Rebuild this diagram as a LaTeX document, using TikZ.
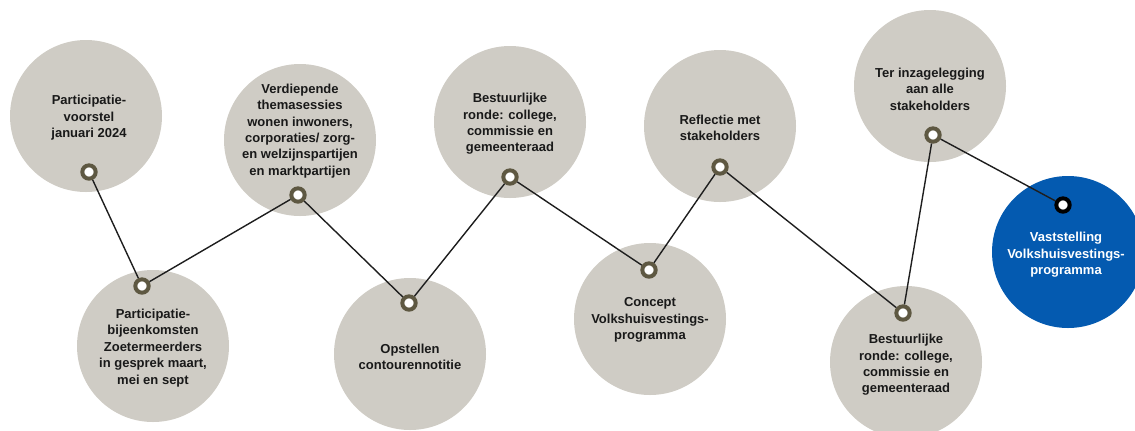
\documentclass[tikz,border=0pt]{standalone}
\usepackage{fontspec}
\setmainfont{Liberation Sans}
\definecolor{disc}{RGB}{207,204,197}
\definecolor{bluedisc}{RGB}{4,90,176}
\definecolor{ringc}{RGB}{94,88,66}
\definecolor{linec}{RGB}{30,30,30}
\begin{document}
\begin{tikzpicture}[x=0.75pt,y=-0.75pt,
  disk/.style={circle,fill=disc,draw=none,minimum size=114pt,inner sep=0pt},
  bdisk/.style={circle,fill=bluedisc,draw=none,minimum size=114pt,inner sep=0pt},
  lbl/.style={align=center,font=\fontsize{9.75}{12.3}\selectfont\bfseries,text=black!90,inner sep=0pt},
  wlbl/.style={lbl,text=white},
  ring/.style={circle,fill=white,draw=ringc,line width=3pt,minimum size=10pt,inner sep=0pt},
  bring/.style={ring,draw=black},
  conn/.style={draw=linec,line width=1.05pt}]
\useasboundingbox (0,0) rectangle (1135,430);
% discs
\node[disk] (c1) at (86,116) {};
\node[disk] (c2) at (300,140) {};
\node[disk] (c3) at (153,346) {};
\node[disk] (c4) at (410,354) {};
\node[disk] (c5) at (510,122) {};
\node[disk] (c6) at (720,126) {};
\node[disk] (c7) at (650,319) {};
\node[disk] (c8) at (930,86) {};
\node[disk] (c9) at (906,362) {};
\node[bdisk] (c10) at (1068,252) {};
% labels
\node[lbl] (t1) at (89,118) {Participatie-\\voorstel\\januari 2024};
\node[lbl] (t2) at (300,131) {Verdiepende\\themasessies\\wonen inwoners,\\corporaties/ zorg-\\en welzijnspartijen\\en marktpartijen};
\node[lbl] (t3) at (153,348) {Participatie-\\bijeenkomsten\\Zoetermeerders\\in gesprek maart,\\mei en sept};
\node[lbl] (t4) at (410,357) {Opstellen\\contourennotitie};
\node[lbl] (t5) at (510,124) {Bestuurlijke\\ronde: college,\\commissie en\\gemeenteraad};
\node[lbl] (t6) at (720,128) {Reflectie met\\stakeholders};
\node[lbl] (t7) at (650,320) {Concept\\Volkshuisvestings-\\programma};
\node[lbl] (t8) at (930,89) {Ter inzagelegging\\aan alle\\stakeholders};
\node[lbl] (t9) at (906,365) {Bestuurlijke\\ronde: college,\\commissie en\\gemeenteraad};
\node[wlbl] (t10) at (1066,255) {Vaststelling\\Volkshuisvestings-\\programma};
% ring markers
\node[ring] (r1) at (89,172) {};
\node[ring] (r2) at (298,195) {};
\node[ring] (r3) at (142,286) {};
\node[ring] (r4) at (409,303) {};
\node[ring] (r5) at (510,177) {};
\node[ring] (r6) at (720,167) {};
\node[ring] (r7) at (649,270) {};
\node[ring] (r8) at (933,135) {};
\node[ring] (r9) at (903,313) {};
\node[bring] (r10) at (1063,205) {};
% connectors
\path[conn] (r1) -- (r3);
\path[conn] (r3) -- (r2);
\path[conn] (r2) -- (r4);
\path[conn] (r4) -- (r5);
\path[conn] (r5) -- (r7);
\path[conn] (r7) -- (r6);
\path[conn] (r6) -- (r9);
\path[conn] (r9) -- (r8);
\path[conn] (r8) -- (r10);
\end{tikzpicture}
\end{document}
